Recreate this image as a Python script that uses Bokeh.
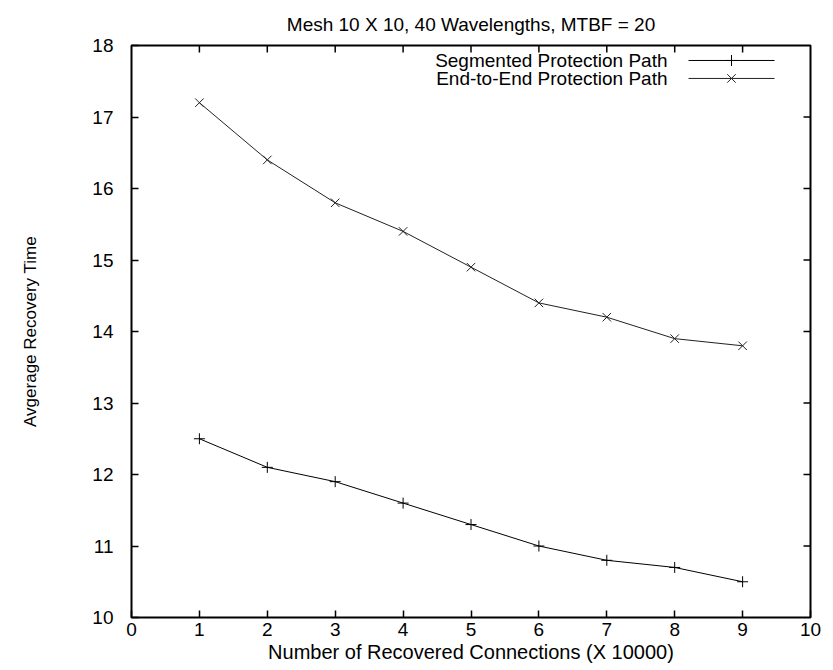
from bokeh.plotting import figure
from bokeh.models import LinearAxis, FixedTicker, Range1d, Label, ColumnDataSource
from bokeh.embed import file_html
from bokeh.resources import INLINE

# ---- data ----
connections = [1, 2, 3, 4, 5, 6, 7, 8, 9]
segmented = [12.5, 12.1, 11.9, 11.6, 11.3, 11.0, 10.8, 10.7, 10.5]
end_to_end = [17.2, 16.4, 15.8, 15.4, 14.9, 14.4, 14.2, 13.9, 13.8]
series_names = ["Segmented Protection Path", "End-to-End Protection Path"]
x_ticks = [0, 1, 2, 3, 4, 5, 6, 7, 8, 9, 10]
y_ticks = [10, 11, 12, 13, 14, 15, 16, 17, 18]
title_text = "Mesh 10 X 10, 40 Wavelengths, MTBF = 20"
x_label = "Number of Recovered Connections (X 10000)"
y_label = "Avgerage Recovery Time"

FONT = "Liberation Sans"
W, H = 833, 670
L, R, T, B = 131, 23, 44, 53
XMIN, XMAX, YMIN, YMAX = 0, 10, 10, 18
TICK = 7

p = figure(width=W, height=H, output_backend="svg", toolbar_location=None,
           x_range=Range1d(XMIN, XMAX), y_range=Range1d(YMIN, YMAX),
           x_axis_location=None, y_axis_location=None,
           min_border_left=L, min_border_right=R, min_border_top=T, min_border_bottom=B)
p.grid.visible = False
p.background_fill_color = "white"
p.border_fill_color = "white"
p.outline_line_color = "black"
p.outline_line_width = 2

def make_axis(ticks, size):
    ax = LinearAxis(ticker=FixedTicker(ticks=ticks))
    ax.axis_line_color = None
    ax.major_tick_in = TICK
    ax.major_tick_out = 0
    ax.major_tick_line_color = "black"
    ax.major_tick_line_width = 1.5
    ax.minor_tick_line_color = None
    ax.major_label_text_font = FONT
    ax.major_label_text_color = "black"
    ax.major_label_text_font_size = size
    ax.axis_label_text_color = "black"
    ax.axis_label_text_font = FONT
    ax.axis_label_text_font_style = "normal"
    return ax

xb = make_axis(x_ticks, "19px")
xb.major_label_standoff = 5
xb.axis_label = x_label
xb.axis_label_text_font_size = "20px"
xb.axis_label_standoff = 2
p.add_layout(xb, "below")

yl = make_axis(y_ticks, "19px")
yl.major_label_standoff = 18
yl.axis_label = y_label
yl.axis_label_text_font_size = "17px"
yl.axis_label_standoff = 49
p.add_layout(yl, "left")

p.title.text = title_text
p.title.text_font = FONT
p.title.text_font_size = "19px"
p.title.text_font_style = "normal"
p.title.text_color = "black"
p.title.align = "center"
p.title.standoff = 22

# pixel <-> data helpers for screen-sized decorations
px_x = (W - L - R) / (XMAX - XMIN)
px_y = (H - T - B) / (YMAX - YMIN)
def sx(px):
    return XMIN + (px - L) / px_x
def sy(py):
    return YMAX - (py - T) / px_y

# mirror ticks on top and right edges
top_t = [t for t in x_ticks if XMIN < t < XMAX]
right_t = [t for t in y_ticks if YMIN < t < YMAX]
p.segment(x0=top_t, y0=[YMAX] * len(top_t), x1=top_t, y1=[YMAX - TICK / px_y] * len(top_t),
          line_color="black", line_width=1.5)
p.segment(x0=[XMAX] * len(right_t), y0=right_t, x1=[XMAX - TICK / px_x] * len(right_t), y1=right_t,
          line_color="black", line_width=1.5)

# ---- series ----
src1 = ColumnDataSource(dict(x=connections, y=segmented))
src2 = ColumnDataSource(dict(x=connections, y=end_to_end))
p.line("x", "y", source=src1, line_color="black", line_width=1)
p.scatter("x", "y", source=src1, marker="cross", size=11, line_color="black", line_width=1)
p.line("x", "y", source=src2, line_color="#222222", line_width=1)
p.scatter("x", "y", source=src2, marker="x", size=12, line_color="#222222", line_width=1)

# ---- gnuplot-style legend (text left, sample right) ----
rows_py = [59, 77]
markers = ["cross", "x"]
msizes = [11, 12]
colors = ["black", "#222222"]
for name, py, mk, ms, col in zip(series_names, rows_py, markers, msizes, colors):
    p.add_layout(Label(x=sx(667), y=sy(py), text=name, text_align="right",
                       text_baseline="middle", text_font=FONT, text_font_size="19px",
                       text_color="black"))
    p.line([sx(688), sx(774)], [sy(py), sy(py)], line_color=col, line_width=1)
    p.scatter([sx(731)], [sy(py)], marker=mk, size=ms, line_color=col, line_width=1)

open("out.html", "w").write(file_html(p, INLINE))
